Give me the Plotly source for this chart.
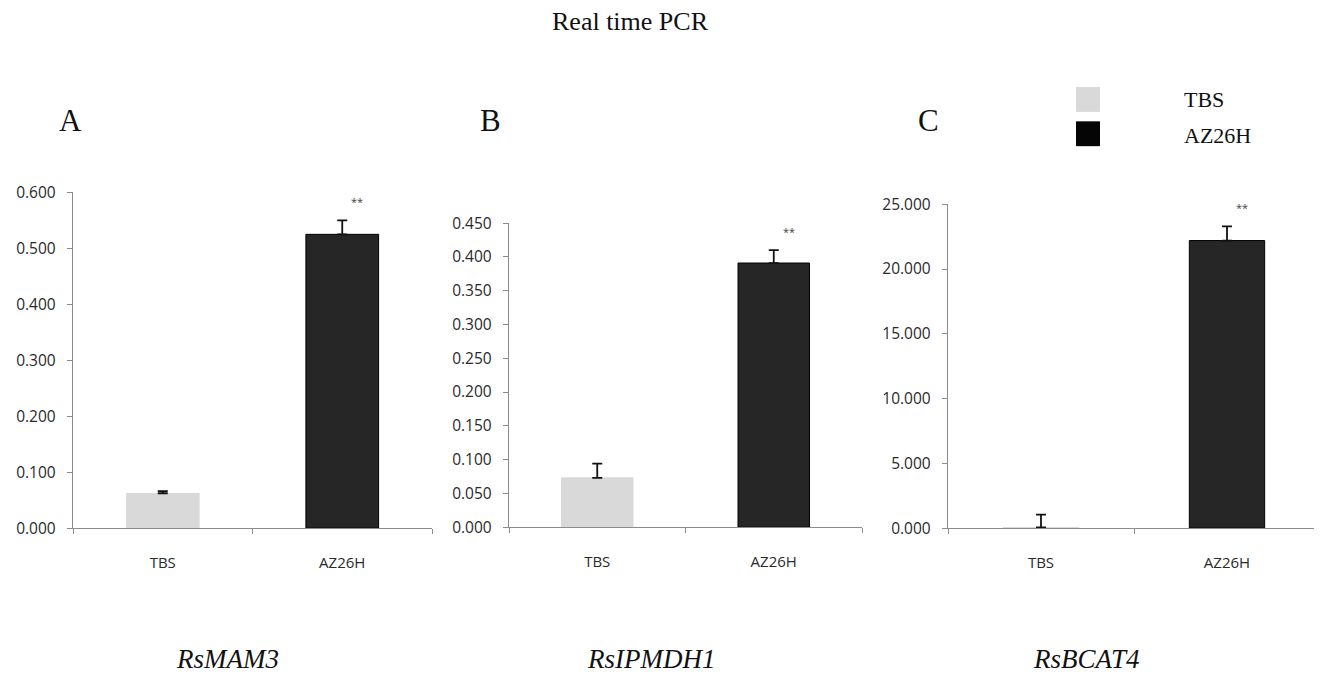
import plotly.graph_objects as go

categories = ["TBS", "AZ26H"]
genes = ["RsMAM3", "RsIPMDH1", "RsBCAT4"]
panel_letters = ["A", "B", "C"]
means = {
    "RsMAM3": [0.062, 0.525],
    "RsIPMDH1": [0.073, 0.391],
    "RsBCAT4": [0.05, 22.2],
}
errors = {
    "RsMAM3": [0.004, 0.025],
    "RsIPMDH1": [0.021, 0.019],
    "RsBCAT4": [1.0, 1.1],
}
y_max = [0.6, 0.45, 25.0]
y_dtick = [0.1, 0.05, 5.0]
significance = ["**", "**", "**"]

bar_colors = ["#d9d9d9", "#262626"]

W, H = 1322, 680
# empirical mapping of the viewer: rendered_y = 17.5 + 0.974*paper_y, rendered_x = paper_x + 8
def px(rx):
    return (rx - 8) / W
def py(ry):
    return 1 - ((ry - 17.5) / 0.974) / H

x_domains = [[px(73), px(432)], [px(509), px(862)], [px(948), px(1320)]]
y_domains = [[py(529), py(191)], [py(528), py(222)], [py(529), py(203)]]

fig = go.Figure()
axis_color = "#8c8c8c"
tick_font = dict(family="Open Sans, DejaVu Sans, sans-serif", size=15.5, color="#2a2a2a")
xtick_font = dict(family="Open Sans, DejaVu Sans, sans-serif", size=15, color="#2a2a2a")
serif = "Liberation Serif, Times New Roman, serif"

for i, g in enumerate(genes):
    xa = "x" if i == 0 else f"x{i+1}"
    ya = "y" if i == 0 else f"y{i+1}"
    fig.add_trace(go.Bar(
        x=categories, y=means[g], xaxis=xa, yaxis=ya,
        width=0.405,
        marker=dict(color=bar_colors, line=dict(color=["#d9d9d9", "#000000"], width=1)),
        error_y=dict(type="data", symmetric=False, array=errors[g], arrayminus=[0, 0],
                     color="#111111", thickness=1.8, width=5),
        showlegend=False,
    ))
    suffix = "" if i == 0 else str(i + 1)
    fig.layout["xaxis" + suffix] = dict(
        domain=x_domains[i], anchor=ya, type="category",
        showline=True, linecolor=axis_color, linewidth=1.4,
        ticks="outside", tickson="boundaries", ticklen=5, tickcolor=axis_color,
        tickfont=xtick_font, ticklabelstandoff=21, showgrid=False, zeroline=False,
        fixedrange=True,
    )
    fig.layout["yaxis" + suffix] = dict(
        domain=y_domains[i], anchor=xa, range=[0, y_max[i]], dtick=y_dtick[i],
        tickformat=".3f", showline=True, linecolor=axis_color, linewidth=1.4,
        ticks="outside", ticklen=5, tickcolor=axis_color, tickfont=tick_font,
        ticklabelstandoff=8, showgrid=False, zeroline=False,
    )
    # significance stars
    fig.add_annotation(
        x=categories[1], y=means[g][1] + errors[g][1], xref=xa, yref=ya,
        text=significance[i], showarrow=False, xshift=15, yshift=19,
        font=dict(family="Open Sans, sans-serif", size=11, color="#444444"),
    )
    # panel letters
    fig.add_annotation(
        x=px([70, 490, 928][i]), y=py(119), xref="paper", yref="paper",
        text=panel_letters[i], showarrow=False, xanchor="center", yanchor="middle",
        font=dict(family=serif, size=31, color="#111111"),
    )
    # gene names
    fig.add_annotation(
        x=px([227, 651, 1086][i]), y=py(661), xref="paper", yref="paper",
        text=f"<i>{g}</i>", showarrow=False, xanchor="center", yanchor="middle",
        font=dict(family=serif, size=27, color="#111111"),
    )

# legend (drawn manually)
legend_sq_y = [97.5, 132]
legend_txt_y = [98, 134]
for k, cat in enumerate(categories):
    yc = py(legend_sq_y[k])
    fig.add_shape(type="rect", xref="paper", yref="paper",
                  x0=px(1076), x1=px(1100), y0=yc - 12.5 / 0.974 / H, y1=yc + 12.5 / 0.974 / H,
                  fillcolor=["#d9d9d9", "#050505"][k], line=dict(width=0))
    fig.add_annotation(x=px(1182), y=py(legend_txt_y[k]), xref="paper", yref="paper", text=cat,
                       showarrow=False, xanchor="left", yanchor="middle",
                       font=dict(family=serif, size=22, color="#111111"))

fig.add_annotation(x=px(630), y=py(19), xref="paper", yref="paper",
                   text="Real time PCR", showarrow=False, xanchor="center", yanchor="middle",
                   font=dict(family=serif, size=26, color="#111111"))

fig.update_layout(
    width=W, height=H, margin=dict(l=0, r=0, t=0, b=0),
    plot_bgcolor="white", paper_bgcolor="white",
)

fig.write_html("out.html")
